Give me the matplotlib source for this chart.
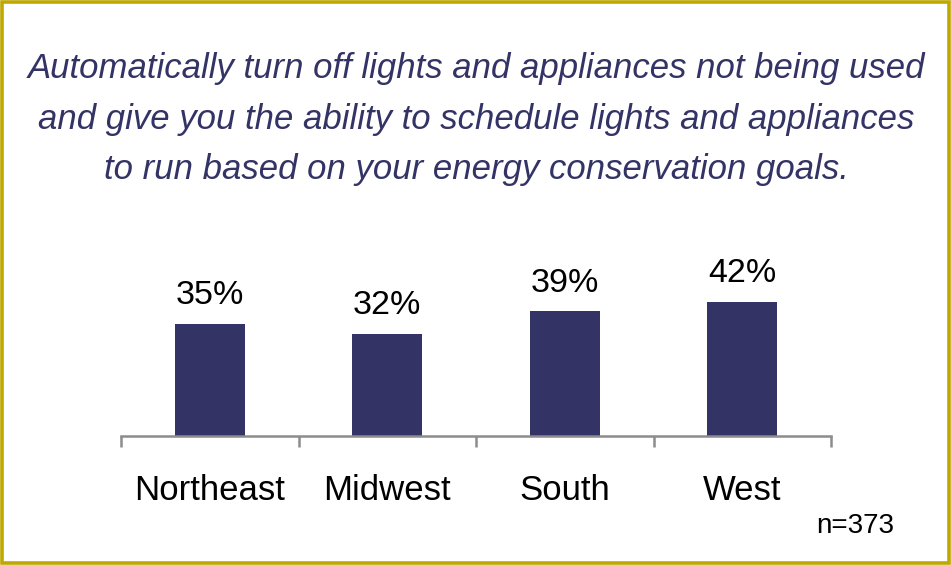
import matplotlib
matplotlib.use("Agg")
import matplotlib.pyplot as plt
from matplotlib.patches import Rectangle

regions = ["Northeast", "Midwest", "South", "West"]
shares = [35, 32, 39, 42]
title = ("Automatically turn off lights and appliances not being used\n"
         "and give you the ability to schedule lights and appliances\n"
         "to run based on your energy conservation goals.")
sample_note = "n=373"

W, H = 951, 565
fig = plt.figure(figsize=(W / 100, H / 100), dpi=100)
plt.rcParams['font.family'] = ['Liberation Sans', 'DejaVu Sans']

navy = "#333366"
gold = "#BFA900"
axis_gray = "#8C8C8C"

# axes placed in pixel terms: baseline at y=436, spanning x 121..831
left, right, bottom, top = 121, 831, 436, 220
ax = fig.add_axes([left / W, 1 - bottom / H, (right - left) / W, (bottom - top) / H])
ymax = (bottom - top) / 3.2
ax.set_xlim(0, len(regions))
ax.set_ylim(0, ymax)

xs = [i + 0.5 for i in range(len(regions))]
ax.bar(xs, shares, width=70 / 177.5, color=navy, zorder=2)
for x, v in zip(xs, shares):
    ax.annotate(f"{v}%", (x, v), xytext=(0, 9), textcoords="offset points",
                ha="center", va="bottom", fontsize=24.5, color="black")

for s in ["top", "right", "left"]:
    ax.spines[s].set_visible(False)
ax.spines["bottom"].set_color(axis_gray)
ax.spines["bottom"].set_linewidth(1.8)
ax.set_yticks([])
ax.set_xticks(range(len(regions) + 1))
ax.set_xticklabels([])
ax.tick_params(axis="x", direction="out", length=8, width=1.8, color=axis_gray)
for x, name in zip(xs, regions):
    ax.text(x, -0.25, name, transform=ax.get_xaxis_transform(),
            ha="center", va="center", fontsize=25, color="black")

fig.text(476 / W, 1 - 119 / H, title, ha="center", va="center",
         fontsize=25, style="italic", color=navy, linespacing=1.67)
fig.text(855 / W, 1 - 526 / H, sample_note, ha="center", va="center",
         fontsize=20, color="black")

fig.patches.append(Rectangle((0.0016, 0.0027), 0.9968, 0.9946,
                             transform=fig.transFigure, fill=False,
                             edgecolor=gold, linewidth=2.6))

fig.savefig("out.png", dpi=100, facecolor="white")
